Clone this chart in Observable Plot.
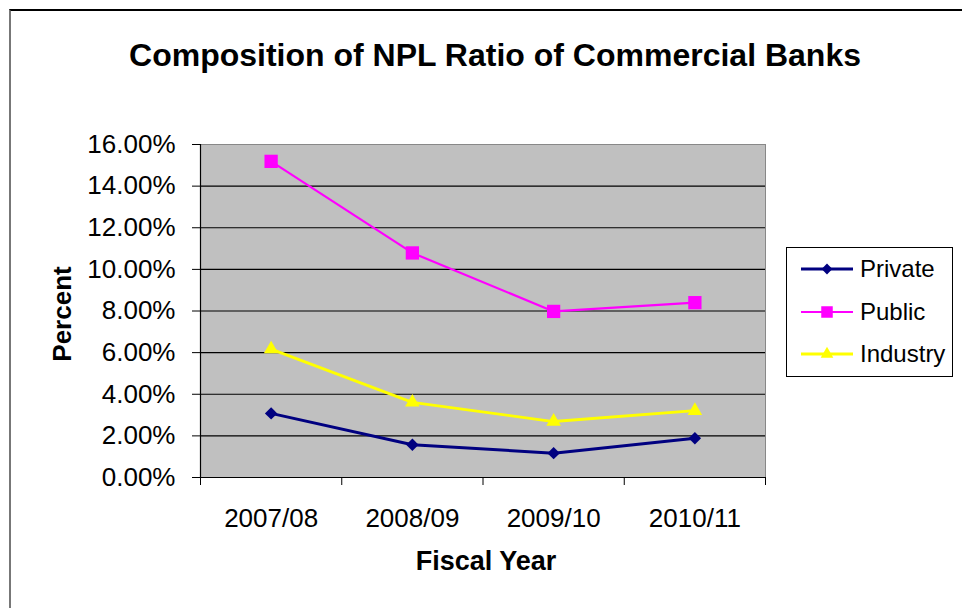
<!DOCTYPE html>
<html>
<head>
<meta charset="utf-8">
<script src="https://cdn.jsdelivr.net/npm/d3@7"></script>
<script src="https://cdn.jsdelivr.net/npm/@observablehq/plot@0.6"></script>
<style>
  body { margin: 0; background: #fff; }
  #wrap { position: relative; width: 962px; height: 608px; overflow: hidden; font-family: "Liberation Sans", Arial, sans-serif; color: #000; }
  #border { position: absolute; left: 9px; top: 9px; width: 1000px; height: 700px; border-top: 2px solid #000; border-left: 2px solid #777; }
  #chart { position: absolute; left: 0; top: 0; }
  #legend { position: absolute; left: 786px; top: 247px; width: 165px; height: 128px; border: 1px solid #000; background: #fff; }
  .row { position: absolute; left: 0; height: 30px; display: flex; align-items: center; }
  .row span { font-size: 24px; margin-left: 6px; }
</style>
</head>
<body>
<div id="wrap">
  <div id="border"></div>
  <div id="chart"></div>
  <div id="legend"></div>
</div>
<script>
const title = "Composition of NPL Ratio of Commercial Banks";
const years = ["2007/08", "2008/09", "2009/10", "2010/11"];
const seriesNames = ["Private", "Public", "Industry"];
const privateVals = [3.08, 1.57, 1.17, 1.89];
const publicVals = [15.19, 10.79, 7.98, 8.40];
const industryVals = [6.17, 3.61, 2.69, 3.21];
const yTicks = [0, 2, 4, 6, 8, 10, 12, 14, 16];
const xLabel = "Fiscal Year";
const yLabel = "Percent";

const seriesStyle = {
  Private: {color: "#000080", symbol: "diamond2", r: 5.6, width: 3},
  Public: {color: "#FF00FF", symbol: "square", r: 7.5, width: 2.2},
  Industry: {color: "#FFFF00", symbol: "triangle", r: 5.4, width: 2.8}
};
const seriesVals = {Private: privateVals, Public: publicVals, Industry: industryVals};

const rows = seriesNames.flatMap(s => years.map((y, i) => ({series: s, idx: i, year: y, value: seriesVals[s][i]})));
const boundaries = d3.range(years.length + 1).map(i => i - 0.5);
const fmt = d => d.toFixed(2) + "%";

const seriesMarks = seriesNames.flatMap(s => {
  const st = seriesStyle[s];
  const data = rows.filter(d => d.series === s);
  return [
    Plot.line(data, {x: "idx", y: "value", stroke: st.color, strokeWidth: st.width}),
    Plot.dot(data, {x: "idx", y: "value", symbol: () => st.symbol, fill: st.color, stroke: "none", r: st.r})
  ];
});

const chart = Plot.plot({
  width: 962,
  height: 608,
  marginLeft: 200,
  marginRight: 197,
  marginTop: 144,
  marginBottom: 131,
  style: {fontFamily: "Liberation Sans, Arial, sans-serif", color: "#000", background: "transparent"},
  x: {type: "linear", domain: [-0.5, years.length - 0.5]},
  y: {domain: [0, 16]},
  symbol: {type: "identity"},
  marks: [
    Plot.frame({fill: "#C0C0C0", stroke: "#888"}),
    Plot.gridY(yTicks.slice(1, -1), {stroke: "#000", strokeOpacity: 1, strokeWidth: 1.2}),
    Plot.axisY({ticks: yTicks, tickSize: 8, tickPadding: 17, tickFormat: fmt, fontSize: 26, label: null, stroke: "#000"}),
    Plot.axisX({ticks: boundaries, tickSize: 8, tickFormat: () => "", label: null, stroke: "#000"}),
    Plot.axisX({ticks: d3.range(years.length), tickSize: 0, tickPadding: 31, tickFormat: i => years[i], fontSize: 26, label: null}),
    Plot.ruleX([-0.5], {stroke: "#000", strokeWidth: 1.2}),
    Plot.ruleY([0], {stroke: "#000", strokeWidth: 1.2}),
    ...seriesMarks,
    Plot.text([title], {frameAnchor: "top", lineAnchor: "middle", dx: 12, dy: -89, fontSize: 32, fontWeight: "bold", fill: "#000"}),
    Plot.text([xLabel], {frameAnchor: "bottom", lineAnchor: "middle", dx: 3, dy: 84, fontSize: 27, fontWeight: "bold", fill: "#000"}),
    Plot.text([yLabel], {frameAnchor: "left", textAnchor: "middle", lineAnchor: "middle", dx: -138, dy: 3, rotate: -90, fontSize: 26, fontWeight: "bold", fill: "#000"})
  ]
});
document.getElementById("chart").appendChild(chart);

// Legend
const legend = document.getElementById("legend");
const rowTops = [6, 49, 91];
seriesNames.forEach((s, k) => {
  const st = seriesStyle[s];
  const row = document.createElement("div");
  row.className = "row";
  row.style.top = rowTops[k] + "px";
  row.style.left = "13px";
  const svg = d3.create("svg").attr("width", 54).attr("height", 30);
  svg.append("line").attr("x1", 1).attr("x2", 53).attr("y1", 15).attr("y2", 15)
    .attr("stroke", st.color).attr("stroke-width", st.width);
  const symMap = {diamond2: d3.symbolDiamond2, square: d3.symbolSquare, triangle: d3.symbolTriangle};
  const size = st.r * st.r * Math.PI * 0.75;
  svg.append("path").attr("transform", "translate(27,15)")
    .attr("d", d3.symbol(symMap[st.symbol], size)()).attr("fill", st.color);
  row.appendChild(svg.node());
  const span = document.createElement("span");
  span.textContent = s;
  row.appendChild(span);
  legend.appendChild(row);
});
</script>
</body>
</html>
